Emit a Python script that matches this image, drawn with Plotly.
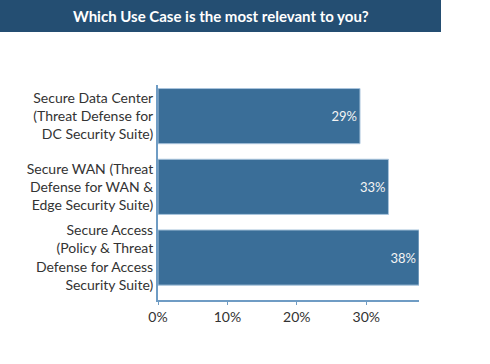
import plotly.graph_objects as go

categories = [
    "Secure Data Center<br>(Threat Defense for<br>DC Security Suite)",
    "Secure WAN (Threat<br>Defense for WAN &<br>Edge Security Suite)",
    "Secure Access<br>(Policy & Threat<br>Defense for Access<br>Security Suite)",
]
values = [29.1, 33.2, 37.6]
x_ticks = [0, 10, 20, 30]
x_tick_labels = ["0%", "10%", "20%", "30%"]
title_text = "Which Use Case is the most relevant to you?"

positions = list(range(len(categories)))

fig = go.Figure(
    go.Bar(
        x=values,
        y=positions,
        orientation="h",
        width=0.78,
        marker=dict(color="#3a6e98", line=dict(color="#a9c4dc", width=1)),
        texttemplate="%{x:.0f}%",
        textposition="inside",
        insidetextanchor="end",
        textfont=dict(color="#f4f4f4", size=13, family="Lato"),
        hoverinfo="skip",
    )
)

L, R, T, B = 158, 71, 85, 64
W, H = 490, 364
pw, ph = W - L - R, H - T - B

fig.update_layout(
    width=W,
    height=H,
    margin=dict(l=L, r=R, t=T, b=B, pad=0),
    paper_bgcolor="white",
    plot_bgcolor="white",
    showlegend=False,
    font=dict(family="Lato", color="#333333", size=14),
    xaxis=dict(
        range=[0, max(values)],
        tickvals=x_ticks,
        ticktext=x_tick_labels,
        showgrid=False,
        zeroline=False,
        showline=True,
        linecolor="#6f9cc4",
        linewidth=2,
        ticks="outside",
        ticklen=3,
        tickcolor="#6f9cc4",
        tickfont=dict(size=14, color="#333333"),
        fixedrange=True,
    ),
    yaxis=dict(
        range=[2.6, -0.44],
        tickvals=positions,
        ticktext=categories,
        showgrid=False,
        zeroline=False,
        showline=True,
        linecolor="#6f9cc4",
        linewidth=2,
        ticks="",
        tickfont=dict(size=14, color="#333333"),
        fixedrange=True,
    ),
    shapes=[
        dict(
            type="rect",
            xref="paper",
            yref="paper",
            x0=-L / pw,
            x1=(441 - L) / pw,
            y0=(H - B - 32) / ph,
            y1=(H - B) / ph,
            fillcolor="#244e72",
            line=dict(width=0),
            layer="above",
        )
    ],
    annotations=[
        dict(
            text="<b>" + title_text + "</b>",
            xref="paper",
            yref="paper",
            x=(221 - L) / pw,
            y=(H - B - 16) / ph,
            xanchor="center",
            yanchor="middle",
            showarrow=False,
            font=dict(family="Lato", size=15, color="white"),
        )
    ],
)

fig.write_html(
    "out.html",
    config={"displayModeBar": False, "staticPlot": True},
    post_script="document.body.style.margin='0';document.body.style.overflow='hidden';",
)
